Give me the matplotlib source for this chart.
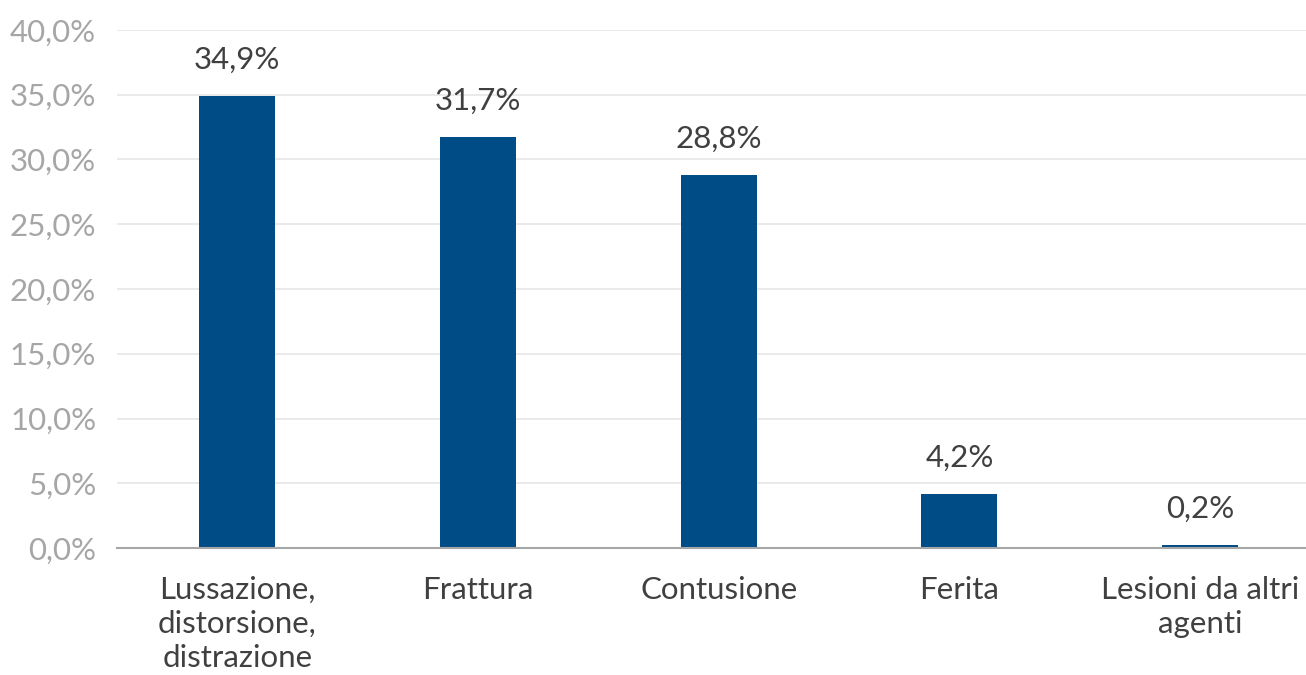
import matplotlib
matplotlib.use("Agg")
import matplotlib.pyplot as plt
from matplotlib.ticker import FuncFormatter

categories = ["Lussazione,\ndistorsione,\ndistrazione", "Frattura", "Contusione", "Ferita", "Lesioni da altri\nagenti"]
values = [34.9, 31.7, 28.8, 4.2, 0.2]
yticks = [0, 5, 10, 15, 20, 25, 30, 35, 40]

plt.rcParams['font.family'] = ['Lato', 'DejaVu Sans']
W, H = 1306, 675
fig = plt.figure(figsize=(W/100, H/100), dpi=100)
ax = fig.add_axes([117/W, (H-548)/H, (1306-117)/W, (548-30)/H])

x = list(range(len(categories)))
ax.bar(x, values, width=0.316, color="#004c87", zorder=3)
ax.set_xlim(-0.5, 4.44)
ax.set_ylim(0, 40)
ax.set_yticks(yticks)
ax.yaxis.set_major_formatter(FuncFormatter(lambda v, p: f"{v:.1f}%".replace(".", ",")))
ax.grid(axis="y", color="#e6e6e6", linewidth=1.2, zorder=0)
for s in ["top", "right", "left"]:
    ax.spines[s].set_visible(False)
ax.spines["bottom"].set_color("#a6a6a6")
ax.spines["bottom"].set_linewidth(1.5)
ax.spines["bottom"].set_zorder(4)
ax.tick_params(axis="y", length=0, pad=15, labelsize=22.5, labelcolor="#a6a6a6")
ax.tick_params(axis="x", length=0, pad=20, labelsize=22.5, labelcolor="#404040")
ax.set_xticks(x)
ax.set_xticklabels(categories, linespacing=1.27)

for xi, v in zip(x, values):
    ax.annotate(f"{v:.1f}%".replace(".", ","), (xi, v), xytext=(0, 16), textcoords="offset points",
                ha="center", va="bottom", fontsize=22.5, color="#404040")

fig.savefig("out.png", dpi=100)
